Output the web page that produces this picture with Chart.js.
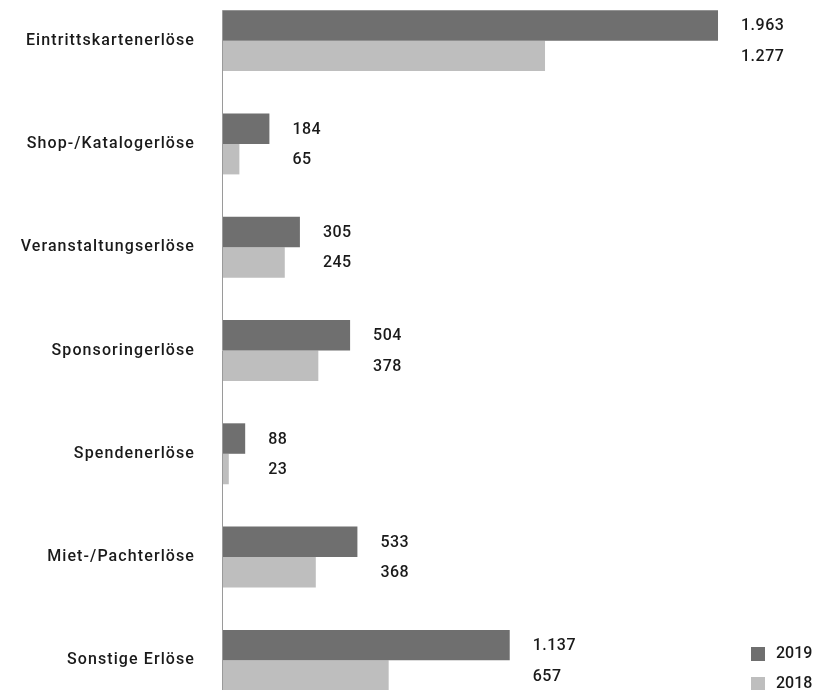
<!DOCTYPE html>
<html lang="de">
<head>
<meta charset="UTF-8">
<title>Erlöse 2019 / 2018</title>
<script src="https://cdn.jsdelivr.net/npm/chart.js"></script>
<style>
  html, body { margin: 0; padding: 0; background: #fff; }
  .wrap { position: relative; width: 817px; height: 690px; overflow: hidden; }
  .wrap canvas { position: absolute; left: 0; top: -11px; }
</style>
</head>
<body>
<div class="wrap">
  <canvas id="erloese" width="817" height="723"></canvas>
</div>
<script>
// Erlösarten (in Tsd. €)
const kategorien = [
  'Eintrittskartenerlöse',
  'Shop-/Katalogerlöse',
  'Veranstaltungserlöse',
  'Sponsoringerlöse',
  'Spendenerlöse',
  'Miet-/Pachterlöse',
  'Sonstige Erlöse'
];
const werte2019 = [1963, 184, 305, 504, 88, 533, 1137];
const werte2018 = [1277, 65, 245, 378, 23, 368, 657];
const jahre = ['2019', '2018'];
const farben = ['#6f6f6f', '#bebebe'];

const schrift = 'Roboto, "DejaVu Sans", sans-serif';
const zahl = v => v.toLocaleString('de-DE');

// etwas Sperrung für die Kategorienamen
const sperrung = {
  id: 'sperrung',
  beforeDraw(chart) { chart.ctx.letterSpacing = '1.1px'; },
  beforeDatasetsDraw(chart) { chart.ctx.letterSpacing = '0.5px'; }
};

// Werte rechts neben dem 2019er Balken, für beide Jahre untereinander
const wertLabels = {
  id: 'wertLabels',
  afterDatasetsDraw(chart) {
    const ctx = chart.ctx;
    const m0 = chart.getDatasetMeta(0);
    ctx.save();
    ctx.font = '500 16px ' + schrift;
    ctx.fillStyle = '#1a1a1a';
    ctx.textAlign = 'left';
    ctx.textBaseline = 'middle';
    chart.data.datasets.forEach((ds, d) => {
      const meta = chart.getDatasetMeta(d);
      meta.data.forEach((bar, i) => {
        const x = m0.data[i].x + 23;
        ctx.fillText(zahl(ds.data[i]), x, bar.y + 1);
      });
    });
    ctx.restore();
  }
};

// Achsenlinie nur über die Höhe der Balken
const achse = {
  id: 'achse',
  afterDatasetsDraw(chart) {
    const ctx = chart.ctx;
    const first = chart.getDatasetMeta(0).data[0];
    const last = chart.getDatasetMeta(1).data[kategorien.length - 1];
    const x = chart.chartArea.left - 0.5;
    ctx.save();
    ctx.strokeStyle = '#9a9a9a';
    ctx.lineWidth = 1;
    ctx.beginPath();
    ctx.moveTo(x, first.y - first.height / 2);
    ctx.lineTo(x, last.y + last.height / 2);
    ctx.stroke();
    ctx.restore();
  }
};

// Legende unten rechts
const legende = {
  id: 'legende',
  afterDraw(chart) {
    const ctx = chart.ctx;
    ctx.save();
    ctx.letterSpacing = '0px';
    ctx.font = '500 16px ' + schrift;
    ctx.textAlign = 'left';
    ctx.textBaseline = 'middle';
    chart.data.datasets.forEach((ds, d) => {
      const y = 658 + d * 30;
      ctx.fillStyle = ds.backgroundColor;
      ctx.fillRect(751, y, 14, 14);
      ctx.fillStyle = '#1a1a1a';
      ctx.fillText(ds.label, 776, y + 7);
    });
    ctx.restore();
  }
};

new Chart(document.getElementById('erloese'), {
  type: 'bar',
  data: {
    labels: kategorien,
    datasets: [
      { label: jahre[0], data: werte2019, backgroundColor: farben[0] },
      { label: jahre[1], data: werte2018, backgroundColor: farben[1] }
    ]
  },
  options: {
    indexAxis: 'y',
    responsive: false,
    animation: false,
    categoryPercentage: 0.59,
    barPercentage: 1,
    layout: { padding: { top: 0, bottom: 0, left: 0, right: 14 } },
    plugins: {
      legend: { display: false },
      tooltip: { enabled: false }
    },
    scales: {
      x: { display: false, min: 0, max: 2300 },
      y: {
        grid: { display: false, drawTicks: false },
        border: { display: false },
        ticks: {
          padding: 28,
          color: '#1a1a1a',
          font: { family: schrift, size: 16, weight: 500 }
        },
        afterFit(scale) {
          scale.width = 223;
          scale.paddingTop = 0;
          scale.paddingBottom = 0;
        }
      }
    }
  },
  plugins: [sperrung, wertLabels, achse, legende]
});
</script>
</body>
</html>
